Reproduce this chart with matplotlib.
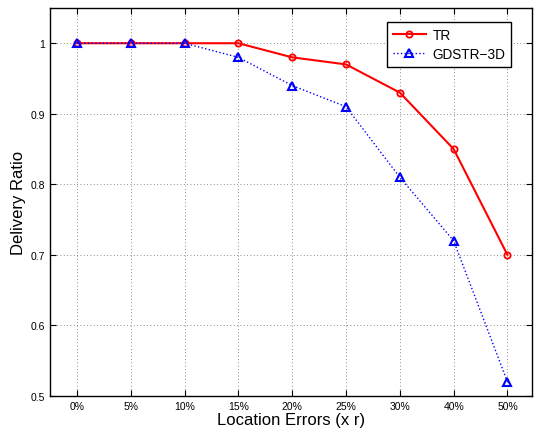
import matplotlib
matplotlib.use("Agg")
import matplotlib.pyplot as plt

plt.rcParams['font.family'] = ['Liberation Sans', 'DejaVu Sans']

categories = ['0%', '5%', '10%', '15%', '20%', '25%', '30%', '40%', '50%']
tr = [1.0, 1.0, 1.0, 1.0, 0.98, 0.97, 0.93, 0.85, 0.70]
gdstr = [1.0, 1.0, 1.0, 0.98, 0.94, 0.91, 0.81, 0.72, 0.52]
yticks = [0.5, 0.6, 0.7, 0.8, 0.9, 1.0]
yticklabels = ['0.5', '0.6', '0.7', '0.8', '0.9', '1']

fig = plt.figure(figsize=(5.4, 4.35), dpi=100)
ax = fig.add_axes([0.0926, 0.0874, 0.892, 0.892])
x = list(range(len(categories)))
ax.plot(x, tr, color='red', linestyle='-', linewidth=1.5, marker='o',
        markersize=4.5, markerfacecolor='none', markeredgewidth=1.3, label='TR')
ax.plot(x, gdstr, color='blue', linestyle=':', linewidth=1.0, marker='^',
        markersize=5.5, markerfacecolor='none', markeredgewidth=1.5, label='GDSTR\u22123D')
ax.set_xlim(-0.5, 8.45)
ax.set_ylim(0.5, 1.05)
ax.set_xticks(x)
ax.set_xticklabels(categories, fontsize=7.5)
ax.set_yticks(yticks)
ax.set_yticklabels(yticklabels, fontsize=7.5)
ax.tick_params(direction='in', top=True, right=True, length=4, color='black')
ax.grid(True, linestyle=(0, (1, 3)), color='#666666', linewidth=0.6)
for s in ax.spines.values():
    s.set_linewidth(1.0)
ax.set_xlabel('Location Errors (x r)', fontsize=12, labelpad=1)
ax.set_ylabel('Delivery Ratio', fontsize=12, labelpad=3)
leg = ax.legend(loc='upper right', bbox_to_anchor=(0.958, 0.964), fontsize=9.8,
                fancybox=False, edgecolor='black', framealpha=1, borderaxespad=0,
                handlelength=2.4, handletextpad=0.5, borderpad=0.45, labelspacing=0.35)
leg.get_frame().set_linewidth(1.0)
fig.savefig('out.png', dpi=100)
